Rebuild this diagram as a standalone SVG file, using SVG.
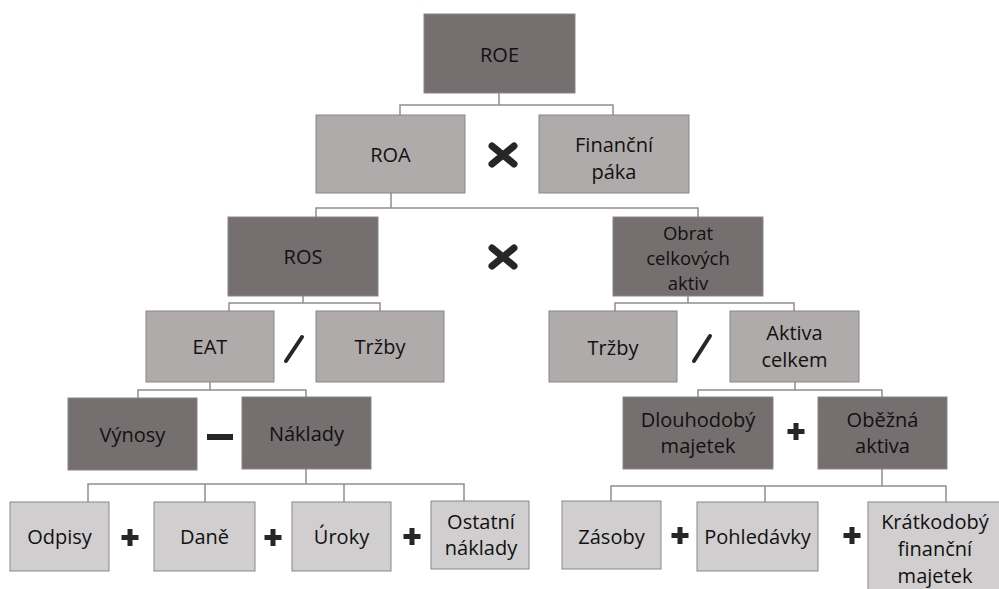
<svg xmlns="http://www.w3.org/2000/svg" width="999" height="589" viewBox="0 0 999 589">
<style>
.d{fill:#756f6f;stroke:#8a8686;stroke-width:1}
.m{fill:#afabab;stroke:#8a8686;stroke-width:1}
.l{fill:#d0cece;stroke:#8a8686;stroke-width:1}
text{font-family:"Open Sans","Liberation Sans",sans-serif;font-size:20px;fill:#111;text-anchor:middle}
.s{font-size:18.5px}
.c{fill:none;stroke:#8f8f8f;stroke-width:1.5}
.op{fill:#262626}
.sl{stroke:#262626;stroke-width:4;stroke-linecap:round}
.x{stroke:#262626;stroke-width:7;stroke-linecap:round}
</style>
<g id="connectors">
<path class="c" d="M499,93V105M400,115V105H613V115"/>
<path class="c" d="M391,193V208M316,217V208H698V217"/>
<path class="c" d="M303,296V303M229,311V303H380V311"/>
<path class="c" d="M688,296V303M615,311V303H794V311"/>
<path class="c" d="M210,382V390M138,398V390H306V397"/>
<path class="c" d="M795,382V390M698,397V390H882V397"/>
<path class="c" d="M306,469V484M88,502V484H464V501M205,484V502M344,484V502"/>
<path class="c" d="M882,469V486M611,501V486H946V502M765,486V502"/>
</g>
<g id="roe"><rect class="d" x="424" y="14" width="151" height="79"/><text x="499.5" y="62">ROE</text></g>
<g id="roa"><rect class="m" x="316" y="115" width="149" height="78"/><text x="390.5" y="162">ROA</text></g>
<g id="financni-paka"><rect class="m" x="539" y="115" width="150" height="78"/><text x="614" y="152">Finanční</text><text x="614" y="179">páka</text></g>
<g id="ros"><rect class="d" x="228" y="217" width="150" height="79"/><text x="303" y="264">ROS</text></g>
<g id="obrat"><rect class="d" x="613" y="217" width="150" height="79"/><text class="s" x="688" y="240">Obrat</text><text class="s" x="688" y="265">celkových</text><text class="s" x="688" y="290">aktiv</text></g>
<g id="eat"><rect class="m" x="146" y="311" width="128" height="71"/><text x="210" y="354">EAT</text></g>
<g id="trzby1"><rect class="m" x="316" y="311" width="128" height="71"/><text x="380" y="354">Tržby</text></g>
<g id="trzby2"><rect class="m" x="549" y="311" width="128" height="71"/><text x="613" y="355">Tržby</text></g>
<g id="aktiva-celkem"><rect class="m" x="730" y="311" width="129" height="71"/><text x="794.5" y="340">Aktiva</text><text x="794.5" y="367">celkem</text></g>
<g id="vynosy"><rect class="d" x="68" y="398" width="129" height="72"/><text x="132.5" y="442">Výnosy</text></g>
<g id="naklady"><rect class="d" x="242" y="397" width="129" height="72"/><text x="306.5" y="441">Náklady</text></g>
<g id="dlouhodoby"><rect class="d" x="623" y="397" width="150" height="72"/><text x="698" y="427">Dlouhodobý</text><text x="698" y="453">majetek</text></g>
<g id="obezna"><rect class="d" x="818" y="397" width="129" height="72"/><text x="882.5" y="427">Oběžná</text><text x="882.5" y="453">aktiva</text></g>
<g id="odpisy"><rect class="l" x="10" y="502" width="99" height="69"/><text x="59.5" y="544">Odpisy</text></g>
<g id="dane"><rect class="l" x="154" y="502" width="101" height="69"/><text x="204.5" y="544">Daně</text></g>
<g id="uroky"><rect class="l" x="292" y="502" width="99" height="69"/><text x="341.5" y="544">Úroky</text></g>
<g id="ostatni"><rect class="l" x="431" y="501" width="98" height="68"/><text x="481" y="529">Ostatní</text><text x="481" y="555">náklady</text></g>
<g id="zasoby"><rect class="l" x="562" y="501" width="99" height="68"/><text x="611.5" y="544">Zásoby</text></g>
<g id="pohledavky"><rect class="l" x="697" y="502" width="121" height="69"/><text x="757.5" y="544">Pohledávky</text></g>
<g id="kratkodoby"><rect class="l" x="868" y="502" width="140" height="100"/><text x="935" y="529">Krátkodobý</text><text x="935" y="556">finanční</text><text x="935" y="583">majetek</text></g>
<g id="operators">
<path class="x" d="M492,146L514,164M514,146L492,164"/>
<path class="x" d="M492,248L514,266M514,248L492,266"/>
<line class="sl" x1="286" y1="361" x2="302" y2="337"/>
<line class="sl" x1="694" y1="361" x2="710" y2="336"/>
<rect class="op" x="207" y="434" width="26" height="6"/>
<path class="op" d="M127.5,529h5v6h6v5h-6v6h-5v-6h-6v-5h6z"/>
<path class="op" d="M270.5,529h5v6h6v5h-6v6h-5v-6h-6v-5h6z"/>
<path class="op" d="M409.5,528h5v6h6v5h-6v6h-5v-6h-6v-5h6z"/>
<path class="op" d="M677.5,527h5v6h6v5h-6v6h-5v-6h-6v-5h6z"/>
<path class="op" d="M849.5,527h5v6h6v5h-6v6h-5v-6h-6v-5h6z"/>
<path class="op" d="M793.5,423h5v6h6v5h-6v6h-5v-6h-6v-5h6z"/>
</g>
</svg>
